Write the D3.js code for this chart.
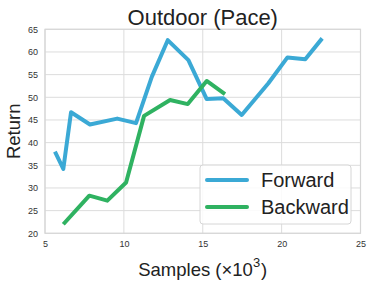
<!DOCTYPE html>
<html>
<head>
<meta charset="utf-8">
<script src="https://cdn.jsdelivr.net/npm/d3@7"></script>
<style>
body { margin:0; background:#fff; }
text { font-family: Arial, "Liberation Sans", sans-serif; }
</style>
</head>
<body>
<script>
// data (samples in thousands, return)
var forwardX = [5.63, 6.16, 6.65, 7.85, 9.58, 10.77, 11.77, 12.78, 14.09, 15.25, 16.3, 17.47, 19.16, 20.37, 21.5, 22.57];
var forwardY = [38.0, 34.2, 46.7, 44.0, 45.3, 44.3, 54.5, 62.6, 58.2, 49.6, 49.8, 46.1, 53.1, 58.8, 58.4, 63.0];
var backwardX = [6.16, 7.81, 8.95, 10.14, 11.28, 12.93, 14.05, 15.25, 16.41];
var backwardY = [22.0, 28.3, 27.2, 31.2, 45.9, 49.4, 48.5, 53.6, 50.7];
var xTicks = [5, 10, 15, 20, 25];
var yTicks = [20, 25, 30, 35, 40, 45, 50, 55, 60, 65];
var seriesNames = ['Forward', 'Backward'];
var seriesColors = ['#3ba9d5', '#2fb261'];

var params = {
  width:373
, height:288
, left:45
, right:12.5
, top:29.3
, bottom:54.7}

var svg = d3.select('body').append('svg')
  .attr('width', params.width)
  .attr('height', params.height);

var x = d3.scaleLinear().domain([5, 25]).range([params.left, params.width - params.right]);
var y = d3.scaleLinear().domain([20, 65]).range([params.height - params.bottom, params.top]);

// grid
svg.append('g').selectAll('line').data(xTicks).enter().append('line')
  .attr('x1', function(d){ return x(d); }).attr('x2', function(d){ return x(d); })
  .attr('y1', y(20)).attr('y2', y(65))
  .style('stroke', '#dcdcdc').style('stroke-width', 1);
svg.append('g').selectAll('line').data(yTicks).enter().append('line')
  .attr('x1', x(5)).attr('x2', x(25))
  .attr('y1', function(d){ return y(d); }).attr('y2', function(d){ return y(d); })
  .style('stroke', '#dcdcdc').style('stroke-width', 1);

svg.append('rect')
  .attr('x', x(5)).attr('y', y(65))
  .attr('width', x(25) - x(5)).attr('height', y(20) - y(65))
  .style('fill', 'none').style('stroke', '#d6d6d6').style('stroke-width', 1.2);

// axes (ticks only as labels)
var xAxis = svg.append('g')
  .attr('transform', 'translate(0,' + (y(20) + 4) + ')')
  .call(d3.axisBottom(x).tickValues(xTicks).tickSize(0).tickPadding(3));
var yAxis = svg.append('g')
  .attr('transform', 'translate(' + (x(5) - 4) + ',0)')
  .call(d3.axisLeft(y).tickValues(yTicks).tickSize(0).tickPadding(3));
[xAxis, yAxis].forEach(function(a){
  a.select('.domain').remove();
  a.selectAll('text').style('font-size', '9px').style('fill', '#333')
    .style('font-family', 'Arial, "Liberation Sans", sans-serif');
});

var line = d3.line()
  .x(function(d){ return x(d[0]); })
  .y(function(d){ return y(d[1]); });

var series = [d3.zip(forwardX, forwardY), d3.zip(backwardX, backwardY)];

svg.append('g').selectAll('path').data(series).enter().append('path')
  .attr('d', line)
  .style('fill', 'none')
  .style('stroke', function(d, i){ return seriesColors[i]; })
  .style('stroke-width', 4)
  .style('stroke-linejoin', 'round');

// title and labels
svg.append('text')
  .attr('x', (x(5) + x(25)) / 2).attr('y', 25)
  .attr('text-anchor', 'middle')
  .style('font-size', '22px').style('fill', '#222')
  .text('Outdoor (Pace)');

var xl = svg.append('text')
  .attr('x', (x(5) + x(25)) / 2).attr('y', 276)
  .attr('text-anchor', 'middle')
  .style('font-size', '18.5px').style('fill', '#222');
xl.append('tspan').text('Samples (×10');
xl.append('tspan').attr('dy', -9).style('font-size', '13px').text('3');
xl.append('tspan').attr('dy', 9).attr('dx', 1).text(')');

svg.append('text')
  .attr('transform', 'translate(20,' + ((y(20) + y(65)) / 2) + ') rotate(-90)')
  .attr('text-anchor', 'middle')
  .style('font-size', '18.5px').style('fill', '#222')
  .text('Return');

// legend
var legend = svg.append('g').attr('transform', 'translate(200,165)');
legend.append('rect')
  .attr('width', 151).attr('height', 59).attr('rx', 3)
  .style('fill', '#fff').style('fill-opacity', 0.85)
  .style('stroke', '#d6d6d6').style('stroke-width', 1);
var items = legend.selectAll('g.item').data(seriesNames).enter().append('g')
  .attr('class', 'item')
  .attr('transform', function(d, i){ return 'translate(0,' + (15 + i * 27) + ')'; });
items.append('line')
  .attr('x1', 7).attr('x2', 47).attr('y1', 0).attr('y2', 0)
  .style('stroke', function(d, i){ return seriesColors[i]; })
  .style('stroke-width', 4).style('stroke-linecap', 'round');
items.append('text')
  .attr('x', 61).attr('y', 7)
  .style('font-size', '20px').style('fill', '#222')
  .text(function(d){ return d; });
</script>
</body>
</html>
